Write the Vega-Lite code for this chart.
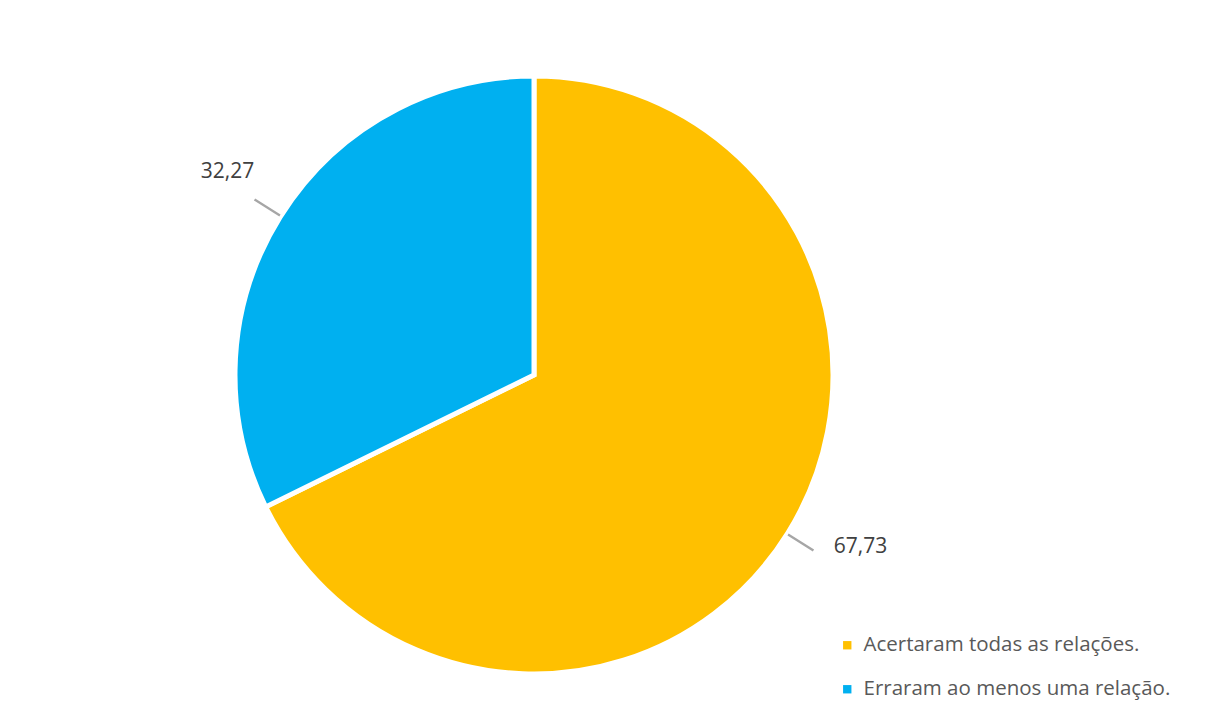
{
  "$schema": "https://vega.github.io/schema/vega-lite/v6.json",
  "width": 1052,
  "height": 700,
  "autosize": {"type": "none"},
  "padding": {"left": 8, "top": 25, "right": 145, "bottom": 0},
  "background": "white",
  "config": {"view": {"stroke": null}, "font": "Open Sans"},
  "data": {
    "values": [
      {"categoria": "Acertaram todas as relações.", "valor": 67.73, "rotulo": "67,73", "ordem": 1},
      {"categoria": "Erraram ao menos uma relação.", "valor": 32.27, "rotulo": "32,27", "ordem": 2}
    ]
  },
  "transform": [
    {"stack": "valor", "groupby": [], "sort": [{"field": "ordem"}], "as": ["ini", "fim"]},
    {"calculate": "(datum.ini + datum.fim) / 2", "as": "meio"},
    {"calculate": "datum.meio + 0.12", "as": "meio2"}
  ],
  "layer": [
    {
      "mark": {"type": "arc", "outerRadius": 299, "stroke": "white", "strokeWidth": 5},
      "encoding": {
        "theta": {"field": "ini", "type": "quantitative", "scale": {"domain": [0, 100]}},
        "theta2": {"field": "fim"},
        "color": {
          "field": "categoria",
          "type": "nominal",
          "scale": {"domain": ["Acertaram todas as relações.", "Erraram ao menos uma relação."], "range": ["#FFC000", "#00B0F0"]},
          "legend": {
            "title": null,
            "orient": "none",
            "legendX": 829,
            "legendY": 610,
            "symbolType": "square",
            "symbolSize": 70,
            "symbolStrokeWidth": 0,
            "labelFontSize": 20.5,
            "labelColor": "#595959",
            "labelFont": "Open Sans",
            "rowPadding": 23,
            "labelOffset": 6,
            "labelLimit": 400
          }
        }
      }
    },
    {
      "mark": {"type": "arc", "innerRadius": 300, "outerRadius": 330, "fill": "#A6A6A6"},
      "encoding": {
        "theta": {"field": "meio", "type": "quantitative", "scale": {"domain": [0, 100]}},
        "theta2": {"field": "meio2"}
      }
    },
    {
      "transform": [{"filter": "datum.ordem == 2"}],
      "mark": {"type": "text", "radius": 367, "fontSize": 21, "color": "#404040", "dx": 5, "dy": -9},
      "encoding": {
        "theta": {"field": "meio", "type": "quantitative", "scale": {"domain": [0, 100]}},
        "text": {"field": "rotulo"}
      }
    },
    {
      "transform": [{"filter": "datum.ordem == 1"}],
      "mark": {"type": "text", "radius": 360, "fontSize": 21, "color": "#404040", "dx": 21, "dy": -18},
      "encoding": {
        "theta": {"field": "meio", "type": "quantitative", "scale": {"domain": [0, 100]}},
        "text": {"field": "rotulo"}
      }
    }
  ]
}
